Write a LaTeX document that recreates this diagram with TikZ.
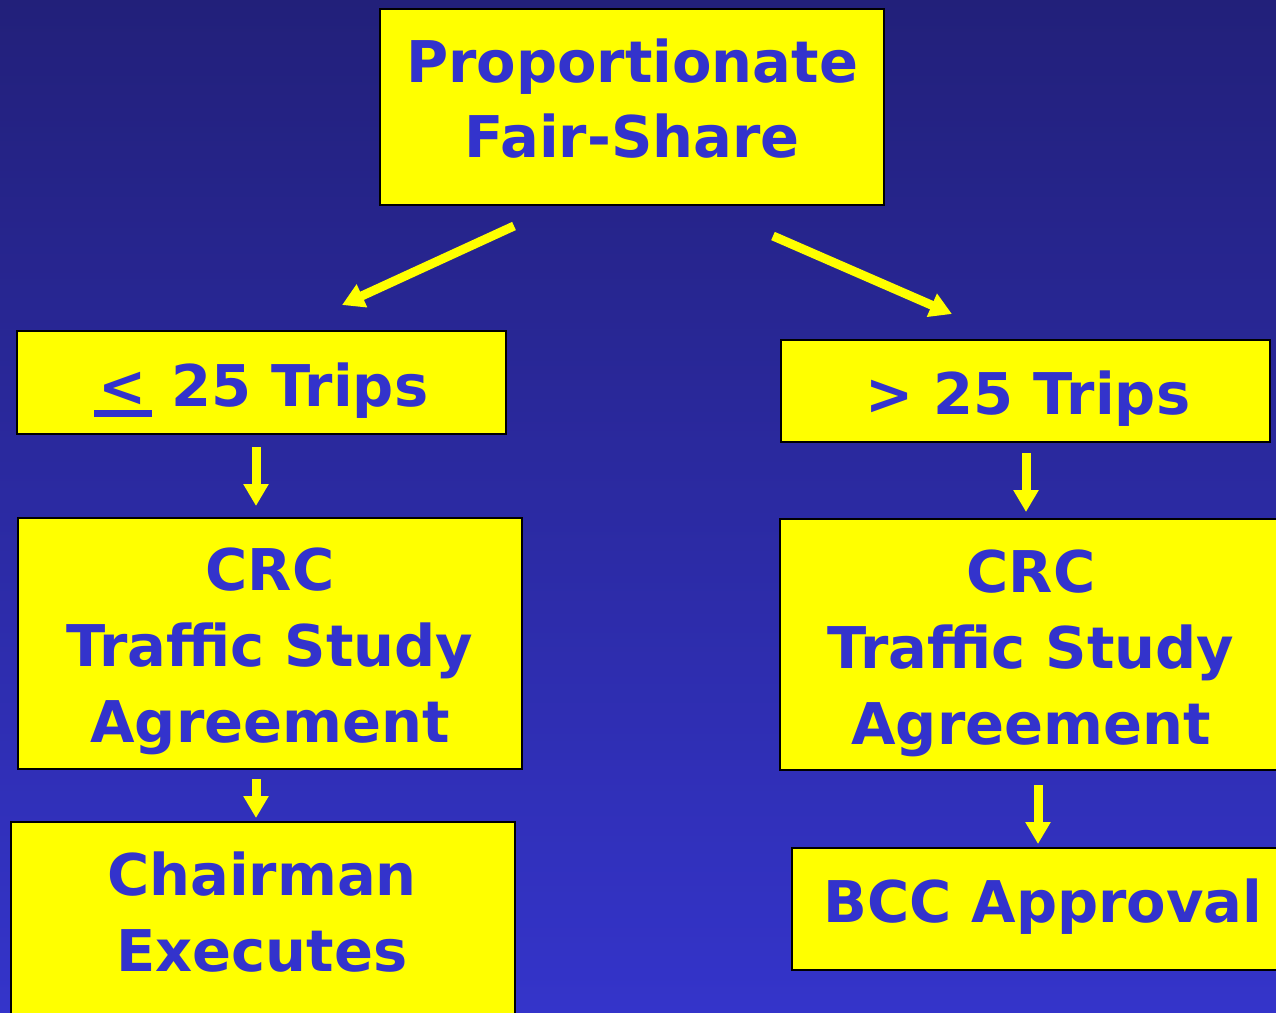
\documentclass[tikz,border=0pt]{standalone}
\usepackage{fontspec}
\setmainfont{DejaVu Sans}
\usetikzlibrary{arrows.meta}
\definecolor{bgtop}{RGB}{34,32,122}
\definecolor{bgbot}{RGB}{52,52,202}
\definecolor{txt}{RGB}{51,51,204}
\definecolor{ybox}{RGB}{255,255,0}
\newcommand\thickul[1]{\leavevmode\vtop{\hbox{\kern5pt #1\kern5pt}\kern4pt\hrule height 7pt}}
\begin{document}
\begin{tikzpicture}[x=1pt,y=-1pt,
  box/.style={draw=black,line width=2pt,fill=ybox,inner sep=0pt},
  lbl/.style={text=txt,font=\bfseries\fontsize{57.5}{76}\selectfont,align=center,inner sep=0pt},
  arr/.style={draw=ybox,line width=9pt,-{Triangle[width=24pt,length=22pt]}}]
\useasboundingbox (0,0) rectangle (1276,1012);
\shade[top color=bgtop,bottom color=bgbot] (0,0) rectangle (1276,1012);
% boxes
\node[box,minimum width=504pt,minimum height=196pt] (top) at (632,107) {};
\node[box,minimum width=489pt,minimum height=103pt] (le) at (261.5,382.5) {};
\node[box,minimum width=489pt,minimum height=102pt] (gt) at (1025.5,391) {};
\node[box,minimum width=504pt,minimum height=251pt] (crcl) at (270,643.5) {};
\node[box,minimum width=510pt,minimum height=251pt,anchor=west] (crcr) at (779,644.5) {};
\node[box,minimum width=504pt,minimum height=210pt,anchor=north west] (chair) at (10,821) {};
\node[box,minimum width=500pt,minimum height=122pt,anchor=west] (bcc) at (791,909) {};
% texts
\node[lbl,font=\bfseries\fontsize{57.5}{75}\selectfont] (topt) at (632,99) {Proportionate\\Fair-Share};
\node[lbl,anchor=base] (let) at (261,406) {\thickul{<} 25 Trips};
\node[lbl,anchor=base] (gtt) at (1028,414) {> 25 Trips};
\node[lbl] (crclt) at (270,651) {CRC\\Traffic Study\\Agreement};
\node[lbl] (crcrt) at (1031,653) {CRC\\Traffic Study\\Agreement};
\node[lbl] (chairt) at (262,912) {Chairman\\Executes};
\node[lbl,anchor=base] (bcct) at (1043,922) {BCC Approval};
% arrows
\coordinate (a1s) at (514,226); \coordinate (a1e) at (342,305);
\coordinate (a2s) at (773,236); \coordinate (a2e) at (952,314);
\coordinate (a3s) at (256,447); \coordinate (a3e) at (256,506);
\coordinate (a4s) at (1026,453); \coordinate (a4e) at (1026,512);
\coordinate (a5s) at (256,779); \coordinate (a5e) at (256,818);
\coordinate (a6s) at (1038,785); \coordinate (a6e) at (1038,844);
\draw[arr] (a1s) -- (a1e);
\draw[arr] (a2s) -- (a2e);
\draw[arr] (a3s) -- (a3e);
\draw[arr] (a4s) -- (a4e);
\draw[arr] (a5s) -- (a5e);
\draw[arr] (a6s) -- (a6e);
\end{tikzpicture}
\end{document}
